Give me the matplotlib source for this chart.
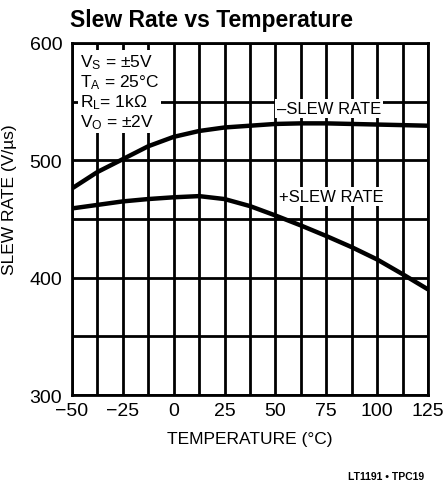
import numpy as np
import matplotlib
matplotlib.use("Agg")
import matplotlib.pyplot as plt

plt.rcParams['font.family'] = ['Liberation Sans Narrow', 'Liberation Sans', 'DejaVu Sans']
plt.rcParams['mathtext.default'] = 'regular'

# temperature (°C) and slew rate (V/us)
temp = [-50, -37.5, -25, -12.5, 0, 12.5, 25, 37.5, 50, 62.5, 75, 87.5, 100, 112.5, 125]
neg_slew = [476, 490, 501, 512, 520, 525, 528, 529.5, 531, 531.5, 531.5, 531, 530.5, 530, 529.5]
pos_slew = [459, 462, 465, 467, 468.5, 469.5, 467, 461, 453, 444.5, 435.5, 426, 415.5, 403, 390]

xticks = [-50, -25, 0, 25, 50, 75, 100, 125]
yticks = [300, 400, 500, 600]

fig = plt.figure(figsize=(4.44, 4.85), dpi=100)
ax = fig.add_axes([0.162, 0.1835, 0.802, 0.7258])

ax.plot(temp, neg_slew, color='black', lw=3.2, zorder=5, solid_capstyle='butt')
ax.plot(temp, pos_slew, color='black', lw=3.2, zorder=5, solid_capstyle='butt')

ax.set_xlim(-50, 125)
ax.set_ylim(300, 600)
ax.set_xticks(xticks)
ax.set_yticks(yticks)
ax.tick_params(length=0, labelsize=14)
ax.tick_params(axis='x', pad=5)
ax.tick_params(axis='y', pad=7)

# grid every 12.5 degC and 50 V/us
ax.vlines(np.arange(-50, 126, 12.5), 300, 600, colors='black', lw=2.0, zorder=1)
ax.hlines(np.arange(300, 601, 50), -50, 125, colors='black', lw=2.0, zorder=1)

for sp in ax.spines.values():
    sp.set_linewidth(2.0)
    sp.set_zorder(6)

ax.set_xlabel('TEMPERATURE (°C)', fontsize=12.5, labelpad=9)
ax.set_ylabel('SLEW RATE (V/µs)', fontsize=12.5)
ax.yaxis.set_label_coords(-0.155, 0.557)

fig.text(0.476, 0.957, 'Slew Rate vs Temperature', ha='center', va='center',
         fontsize=16.5, fontweight='bold')

box = dict(facecolor='white', edgecolor='none', pad=1.5)
ax.text(-46, 592, 'V$_S$ = ±5V\nT$_A$ = 25°C\nR$_L$= 1kΩ\nV$_O$ = ±2V',
        ha='left', va='top', fontsize=12.5, linespacing=1.1, bbox=box, zorder=4)
ax.text(76.5, 544, '–SLEW RATE', ha='center', va='center', fontsize=12, bbox=box, zorder=4)
ax.text(77.3, 469, '+SLEW RATE', ha='center', va='center', fontsize=12, bbox=box, zorder=4)

fig.text(0.87, 0.017, 'LT1191 • TPC19', ha='center', va='center', fontsize=7.5,
         fontweight='bold')

fig.savefig('out.png', dpi=100)
